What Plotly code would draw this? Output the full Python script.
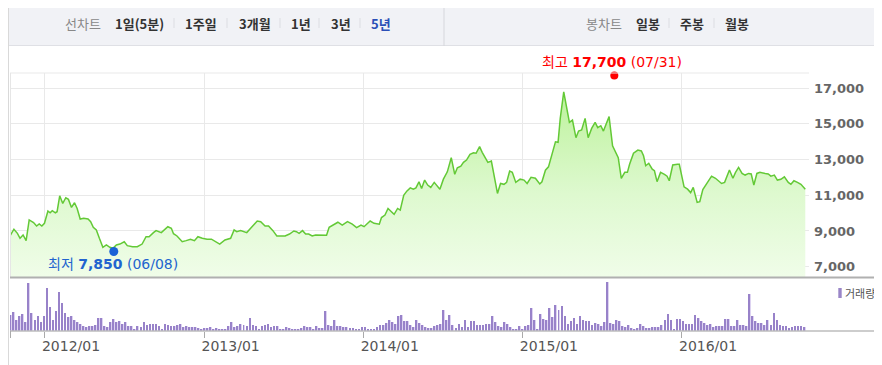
import plotly.graph_objects as go
import pandas as pd

# ---------------- data ----------------
price_dates = [
    "2011-10-14", "2011-10-23", "2011-10-31", "2011-11-06", "2011-11-13", "2011-11-20", "2011-11-27",
    "2011-12-07", "2011-12-14", "2011-12-20", "2011-12-26", "2012-01-01", "2012-01-09", "2012-01-14",
    "2012-01-19", "2012-01-26", "2012-01-30", "2012-02-05", "2012-02-12", "2012-02-19", "2012-02-25",
    "2012-03-03", "2012-03-10", "2012-03-16", "2012-03-23", "2012-03-31", "2012-04-10", "2012-04-16",
    "2012-04-22", "2012-04-29", "2012-05-06", "2012-05-14", "2012-05-22", "2012-05-30", "2012-06-06",
    "2012-06-14", "2012-06-22", "2012-07-02", "2012-07-09", "2012-07-21", "2012-08-01", "2012-08-12",
    "2012-08-21", "2012-08-28", "2012-09-07", "2012-09-13", "2012-09-25", "2012-10-02", "2012-10-10",
    "2012-10-18", "2012-10-23", "2012-10-31", "2012-11-12", "2012-11-21", "2012-12-01", "2012-12-10",
    "2012-12-18", "2012-12-28", "2013-01-08", "2013-01-18", "2013-01-27", "2013-02-06", "2013-02-18",
    "2013-03-03", "2013-03-11", "2013-03-17", "2013-03-26", "2013-04-01", "2013-04-09", "2013-04-20",
    "2013-05-03", "2013-05-11", "2013-05-21", "2013-05-29", "2013-06-08", "2013-06-17", "2013-06-26",
    "2013-07-06", "2013-07-16", "2013-07-26", "2013-08-01", "2013-08-07", "2013-08-15", "2013-08-22",
    "2013-08-29", "2013-09-06", "2013-09-14", "2013-09-25", "2013-10-09", "2013-10-15", "2013-10-26",
    "2013-11-04", "2013-11-14", "2013-11-26", "2013-12-07", "2013-12-17", "2013-12-27", "2014-01-03",
    "2014-01-17", "2014-01-26", "2014-02-07", "2014-02-12", "2014-02-20", "2014-02-27", "2014-03-05",
    "2014-03-13", "2014-03-21", "2014-03-27", "2014-04-04", "2014-04-11", "2014-04-19", "2014-04-26",
    "2014-05-02", "2014-05-09", "2014-05-15", "2014-05-22", "2014-05-29", "2014-06-05", "2014-06-13",
    "2014-06-20", "2014-06-26", "2014-07-04", "2014-07-13", "2014-07-22", "2014-07-30", "2014-08-05",
    "2014-08-13", "2014-08-19", "2014-08-26", "2014-09-03", "2014-09-11", "2014-09-17", "2014-09-25",
    "2014-10-01", "2014-10-09", "2014-10-14", "2014-10-22", "2014-10-27", "2014-11-05", "2014-11-12",
    "2014-11-20", "2014-11-26", "2014-12-03", "2014-12-09", "2014-12-17", "2014-12-27", "2015-01-05",
    "2015-01-12", "2015-01-21", "2015-01-31", "2015-02-10", "2015-02-15", "2015-02-23", "2015-03-02",
    "2015-03-10", "2015-03-18", "2015-03-24", "2015-03-29", "2015-04-06", "2015-04-13", "2015-04-19",
    "2015-04-26", "2015-05-04", "2015-05-10", "2015-05-17", "2015-05-25", "2015-06-01", "2015-06-09",
    "2015-06-17", "2015-06-23", "2015-06-30", "2015-07-06", "2015-07-13", "2015-07-19", "2015-07-27",
    "2015-08-03", "2015-08-09", "2015-08-16", "2015-08-24", "2015-08-30", "2015-09-04", "2015-09-13",
    "2015-09-23", "2015-10-01", "2015-10-06", "2015-10-11", "2015-10-18", "2015-10-26", "2015-10-31",
    "2015-11-06", "2015-11-14", "2015-11-23", "2015-11-29", "2015-12-04", "2015-12-12", "2015-12-23",
    "2015-12-27", "2016-01-07", "2016-01-15", "2016-01-22", "2016-01-28", "2016-02-06", "2016-02-12",
    "2016-02-19", "2016-02-29", "2016-03-10", "2016-03-19", "2016-03-27", "2016-04-02", "2016-04-09",
    "2016-04-20", "2016-04-28", "2016-05-04", "2016-05-11", "2016-05-19", "2016-05-26", "2016-06-03",
    "2016-06-09", "2016-06-15", "2016-06-22", "2016-06-29", "2016-07-11", "2016-07-18", "2016-07-24",
    "2016-08-01", "2016-08-08", "2016-08-16", "2016-08-24", "2016-09-02", "2016-09-08", "2016-09-15",
    "2016-09-23", "2016-10-01", "2016-10-11",
]
price_values = [
    8720, 9100, 8870, 8590, 8780, 8460, 9620,
    9470, 9280, 9390, 9280, 9430, 10120, 10020,
    10140, 10020, 10080, 10970, 10540, 10860, 10770,
    10320, 10580, 10260, 9670, 9710, 9670, 9520,
    9210, 9060, 8590, 8090, 8220, 8090, 8030,
    8220, 8270, 8400, 8180, 8120, 8120, 8270,
    8680, 8680, 8910, 9020, 8910, 9060, 9240,
    9150, 8850, 8720, 8400, 8460, 8540, 8460,
    8680, 8590, 8540, 8540, 8400, 8270, 8500,
    8590, 9060, 8960, 9020, 8960, 8910, 9210,
    9560, 9520, 9280, 9280, 9020, 8720, 8720,
    8720, 8830, 9000, 8960, 8870, 9020, 8830,
    8830, 8720, 8780, 8780, 8760, 9210, 9350,
    9490, 9330, 9520, 9380, 9190, 9330, 9240,
    9560, 9430, 9380, 9750, 9890, 10260, 10120,
    9930, 10260, 10170, 11000, 11230, 11410, 11340,
    11410, 11750, 11380, 11850, 11570, 11440, 11720,
    11530, 11340, 11900, 12310, 13100, 12170, 12540,
    12630, 12840, 12970, 13290, 13380, 13350, 13720,
    13400, 13030, 12840, 12910, 12220, 11100, 11660,
    11610, 11720, 12350, 12280, 11720, 11900, 11850,
    11660, 12000, 11950, 11630, 11750, 12400, 12590,
    13250, 13990, 13960, 15300, 16790, 15820, 15080,
    15210, 14220, 14590, 14650, 15300, 14220, 14740,
    15080, 14780, 14890, 14590, 15080, 15400, 13770,
    13440, 13100, 11950, 12280, 12280, 12730, 13350,
    13530, 13480, 13210, 12650, 12790, 12460, 12370,
    11760, 12280, 12170, 12070, 11810, 12690, 12730,
    12730, 11470, 11340, 11150, 11440, 10600, 10640,
    11320, 11690, 12070, 11950, 11810, 11660, 11720,
    12410, 11950, 12280, 12560, 12220, 12130, 12220,
    12190, 11570, 12220, 12280, 12220, 12190, 12070,
    12130, 11850, 11890, 12030, 11720, 11610, 11810,
    11720, 11610, 11340,
]

# weekly trading volume (thousand shares), first week .. last week
volume_values = [
    490, 570, 340, 460, 520, 260, 1440, 540, 320, 460,
    270, 460, 1290, 710, 320, 590, 1180, 830, 530, 420,
    460, 340, 260, 220, 140, 130, 140, 140, 190, 380,
    390, 160, 120, 260, 360, 260, 290, 220, 270, 140,
    140, 60, 160, 120, 280, 180, 220, 220, 220, 160,
    40, 210, 170, 160, 160, 190, 220, 120, 140, 120,
    120, 120, 80, 40, 100, 100, 120, 70, 90, 40,
    70, 70, 140, 280, 120, 140, 210, 190, 160, 390,
    190, 140, 70, 160, 170, 220, 120, 140, 140, 60,
    40, 120, 90, 70, 60, 70, 90, 140, 120, 120,
    60, 140, 90, 90, 590, 190, 160, 320, 140, 140,
    120, 120, 90, 90, 70, 60, 120, 120, 70, 70,
    70, 120, 180, 190, 240, 340, 260, 210, 440, 480,
    290, 310, 190, 120, 320, 240, 180, 120, 100, 100,
    140, 190,
    220, 640, 340, 490, 190, 90, 220, 120, 340, 120,
    310, 310, 190, 190, 190, 220, 220, 460, 260, 160,
    120, 260, 220, 120, 60, 40, 140, 60, 140, 170,
    690, 320, 60, 520, 360, 340, 690, 420, 790, 620,
    740, 440, 220, 290, 390, 220, 460, 320, 290, 290,
    190, 240, 220, 160, 260, 1480, 240, 220, 340, 290,
    160, 120, 190, 90, 60, 90, 220, 160, 90, 90,
    120, 120, 120, 190, 320, 520, 320, 60, 360, 360,
    290, 220, 220, 220, 490, 390, 290, 240, 190, 220,
    120, 160, 160, 160, 360, 360, 160, 160, 320, 190,
    190, 160, 1110, 460, 290, 240, 240, 190, 340, 190,
    540, 320, 190, 160, 160, 90, 120, 140, 140, 160,
    120,
]
volume_first_week = "2011-10-16"
volume_last_week = "2016-10-09"

year_ticks = ["2012-01-01", "2013-01-01", "2014-01-01", "2015-01-01", "2016-01-01"]
year_labels = ["2012/01", "2013/01", "2014/01", "2015/01", "2016/01"]
price_ticks = [7000, 9000, 11000, 13000, 15000, 17000]

max_date, max_value = "2015-07-31", 17700
min_date, min_value = "2012-06-08", 7850

line_tab_title = "선차트"
line_tabs = ["1일(5분)", "1주일", "3개월", "1년", "3년", "5년"]
candle_tab_title = "봉차트"
candle_tabs = ["일봉", "주봉", "월봉"]
volume_name = "거래량"

# ---------------- layout helpers (page pixel -> paper) ----------------
OFF = 8  # default page body margin
W, H = 882 - OFF, 365 - OFF
PLOT_L, PLOT_R, PLOT_T, PLOT_B = 10, 809, 73, 331  # page pixels
L, R = PLOT_L - OFF, (W + OFF) - PLOT_R
T, B = PLOT_T - OFF, (H + OFF) - PLOT_B
PW, PH = PLOT_R - PLOT_L, PLOT_B - PLOT_T


def px(x):
    return (x - PLOT_L) / PW


def py(y):
    return (PLOT_B - y) / PH


split = py(278)
volume_dates = pd.date_range(volume_first_week, volume_last_week, periods=len(volume_values))
DAY = 86400000

KFONT = "Noto Sans CJK KR"
NFONT = "DejaVu Sans, Noto Sans CJK KR"

fig = go.Figure()

fig.add_trace(go.Scatter(
    x=price_dates, y=price_values, mode="lines",
    line=dict(color="#63c936", width=1.5),
    fill="tozeroy",
    fillgradient=dict(type="vertical", start=6370, stop=16800,
                      colorscale=[[0, "#f0fde9"], [0.45, "#def9cf"], [1, "#bdf29c"]]),
    hoverinfo="skip", showlegend=False, xaxis="x", yaxis="y",
))
fig.add_trace(go.Scatter(
    x=[max_date], y=[max_value], mode="markers", cliponaxis=False,
    marker=dict(color="#ff0000", size=8), showlegend=False, xaxis="x", yaxis="y",
))
fig.add_trace(go.Scatter(
    x=[min_date], y=[min_value], mode="markers", cliponaxis=False,
    marker=dict(color="#1a62d6", size=9), showlegend=False, xaxis="x", yaxis="y",
))

fig.add_trace(go.Bar(
    x=volume_dates, y=volume_values, width=5 * DAY, offset=-2.5 * DAY,
    marker=dict(color="#ddd3f1", line=dict(width=0)),
    showlegend=False, xaxis="x2", yaxis="y2",
))
fig.add_trace(go.Bar(
    x=volume_dates, y=volume_values, width=2.3 * DAY, offset=-2.5 * DAY,
    marker=dict(color="#9882c9", line=dict(width=0)),
    showlegend=False, xaxis="x2", yaxis="y2",
))

shapes = []


def pline(x0, y0, x1, y1, color, width=1):
    shapes.append(dict(type="line", xref="paper", yref="paper",
                       x0=px(x0), y0=py(y0), x1=px(x1), y1=py(y1),
                       line=dict(color=color, width=width), layer="above"))


# header band
shapes.append(dict(type="rect", xref="paper", yref="paper", x0=px(8), x1=px(878),
                   y0=py(46), y1=py(3), fillcolor="#f1f2f6", line=dict(width=0), layer="below"))
pline(8, 3.5, 878, 3.5, "#c6c8d0", 1.5)
pline(8, 45.5, 878, 45.5, "#dfe0e5", 1)
pline(8.5, 3, 8.5, 365, "#d9d9d9", 1)
pline(444, 3, 444, 46, "#d6d7dc", 1)
pline(877.5, 3, 877.5, 46, "#d6d7dc", 1)
for sx in [174, 227, 280, 319, 360, 669, 714]:
    pline(sx, 18, sx, 28, "#dcdde2", 1)

# chart frame lines
pline(10, 73, 809, 73, "#e9e9e9", 1)
pline(10.5, 73, 10.5, 278, "#e6e6e6", 1)
pline(10, 277.5, 881, 277.5, "#b0b0b0", 2)
pline(10, 331, 881, 331, "#bdbdbd", 1.5)
pline(10.5, 331, 10.5, 338, "#aaaaaa", 1)

# volume legend swatch
shapes.append(dict(type="rect", xref="paper", yref="paper", x0=px(838.3), x1=px(841.7),
                   y0=py(298), y1=py(288), fillcolor="#9a86c8", line=dict(width=0)))

annotations = []


def ptext(text, cx, cy, color, size=13, bold=False, family=KFONT):
    annotations.append(dict(text=f"<b>{text}</b>" if bold else text, xref="paper", yref="paper",
                            x=px(cx), y=py(cy), xanchor="center", yanchor="middle",
                            showarrow=False, font=dict(family=family, size=size, color=color)))


ptext(line_tab_title, 83, 23, "#888888")
for label, cx in zip(line_tabs, [139, 200.5, 254.5, 300.5, 340.5, 380.5]):
    ptext(label, cx, 23, "#2b4fb7" if label == "5년" else "#333333", bold=True)
ptext(candle_tab_title, 603.5, 23, "#888888")
for label, cx in zip(candle_tabs, [647.5, 692, 736.5]):
    ptext(label, cx, 23, "#333333", bold=True)
ptext(volume_name, 860, 293, "#555555", size=11)

annotations.append(dict(
    text=f"최고 <b>{max_value:,}</b> ({max_date[5:7]}/{max_date[8:10]})",
    xref="x", yref="y", x=max_date, y=max_value, yshift=14, xshift=-2,
    xanchor="center", yanchor="middle", showarrow=False,
    font=dict(family=NFONT, size=14, color="#ff0000"),
))
annotations.append(dict(
    text=f"최저 <b>{min_value:,}</b> ({min_date[5:7]}/{min_date[8:10]})",
    xref="x", yref="y", x=min_date, y=min_value, yshift=-12, xshift=-1,
    xanchor="center", yanchor="middle", showarrow=False,
    font=dict(family=NFONT, size=14, color="#2264cf"),
))

x_range = ["2011-10-14", "2016-10-19 12:00"]

fig.update_layout(
    width=W, height=H, autosize=False,
    margin=dict(l=L, r=R, t=T, b=B, pad=0),
    paper_bgcolor="white", plot_bgcolor="white",
    barmode="overlay", bargap=0,
    font=dict(family=KFONT),
    shapes=shapes, annotations=annotations,
    xaxis=dict(domain=[0, 1], anchor="y", type="date", range=x_range,
               tickvals=year_ticks, showticklabels=False, ticks="",
               showgrid=True, gridcolor="#e9e9e9", gridwidth=1,
               zeroline=False, showline=False),
    yaxis=dict(domain=[split, 1], anchor="x", range=[6370, 17840], side="right",
               tickvals=price_ticks, tickformat=",d", ticks="",
               tickfont=dict(family="DejaVu Sans", size=13, color="#666666", weight="bold"),
               ticklabelstandoff=4,
               showgrid=True, gridcolor="#e9e9e9", gridwidth=1,
               zeroline=False, showline=False),
    xaxis2=dict(domain=[0, 1], anchor="y2", type="date", matches="x",
                tickvals=year_ticks, ticktext=year_labels,
                ticks="outside", ticklen=6, tickcolor="#aaaaaa", tickwidth=1,
                ticklabelposition="outside right", ticklabelshift=-3, ticklabelstandoff=2,
                tickfont=dict(family="DejaVu Sans", size=14, color="#555555"),
                showgrid=False, zeroline=False, showline=False),
    yaxis2=dict(domain=[0, split], anchor="x2", range=[0, 1590],
                showticklabels=False, showgrid=False, zeroline=False, showline=False),
)

fig.write_html("out.html")
